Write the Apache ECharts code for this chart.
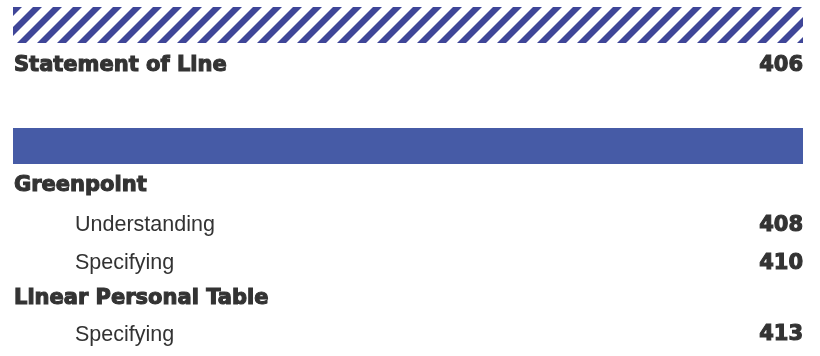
<!DOCTYPE html>
<html>
<head>
<meta charset="utf-8">
<script src="https://cdn.jsdelivr.net/npm/echarts@6/dist/echarts.min.js"></script>
<style>
html,body{margin:0;padding:0;background:#fff;}
#chart{width:820px;height:356px;}
</style>
</head>
<body>
<div id="chart"></div>
<script>
// ---- data ----
const entryTitles = ["Statement of Line", "Greenpoint", "Understanding", "Specifying", "Linear Personal Table", "Specifying"];
const entryLevels = [0, 0, 1, 1, 0, 1];
const entryPages  = ["406", "", "408", "410", "", "413"];
const entryLines  = [64.5, 184.5, 224.5, 262.5, 297.5, 334];   // vertical position on the page axis
const bandKinds   = ["hatched", "solid"];
const bandTops    = [7, 128];
const bandBottoms = [43, 164];

// ---- styles ----
const INK = "#333333";
const HATCH = "#3f4698";
const SOLID = "#465ba6";
const HEAVY = "bold 21px 'DejaVu Sans'";
const LIGHT = "21.5px 'Liberation Sans', Arial, sans-serif";
const LEFT = 13, RIGHT = 803, INDENT = 75;

function clipPoly(pts, xmin, xmax) {
  function clip(poly, keep, inter) {
    const out = [];
    for (let i = 0; i < poly.length; i++) {
      const a = poly[i], b = poly[(i + 1) % poly.length];
      const ka = keep(a), kb = keep(b);
      if (ka) out.push(a);
      if (ka !== kb) out.push(inter(a, b));
    }
    return out;
  }
  const ix = (xv) => (a, b) => { const t = (xv - a[0]) / (b[0] - a[0]); return [xv, a[1] + t * (b[1] - a[1])]; };
  let p = clip(pts, q => q[0] >= xmin, ix(xmin));
  if (p.length) p = clip(p, q => q[0] <= xmax, ix(xmax));
  return p;
}

const chart = echarts.init(document.getElementById('chart'), null, {renderer: 'canvas'});

const bandData = bandKinds.map((k, i) => [i, bandTops[i], bandBottoms[i]]);
const entryData = entryTitles.map((t, i) => [i, entryLines[i]]);

chart.setOption({
  animation: false,
  grid: {left: 0, right: 0, top: 0, bottom: 0},
  xAxis: {type: 'value', min: 0, max: 820, show: false},
  yAxis: {type: 'value', min: 0, max: 356, inverse: true, show: false},
  series: [
    {
      type: 'custom',
      coordinateSystem: 'cartesian2d',
      data: bandData,
      renderItem: function (params, api) {
        const idx = api.value(0);
        const topP = api.coord([LEFT, api.value(1)]);
        const botP = api.coord([RIGHT, api.value(2)]);
        const x0 = topP[0], x1 = botP[0], y0 = topP[1], y1 = botP[1];
        if (bandKinds[idx] === 'solid') {
          return {type: 'rect', shape: {x: x0, y: y0, width: x1 - x0, height: y1 - y0},
                  style: {fill: SOLID}};
        }
        const h = y1 - y0, period = 20, w = 9;
        const children = [];
        for (let bx = x0 - h - period; bx < x1 + period; bx += period) {
          const poly = [[bx, y1], [bx + w, y1], [bx + w + h, y0], [bx + h, y0]];
          const c = clipPoly(poly, x0, x1);
          if (c.length >= 3) children.push({type: 'polygon', shape: {points: c}, style: {fill: HATCH}});
        }
        return {type: 'group', children: children};
      }
    },
    {
      type: 'custom',
      coordinateSystem: 'cartesian2d',
      data: entryData,
      renderItem: function (params, api) {
        const i = api.value(0);
        const lvl = entryLevels[i];
        const p = api.coord([lvl === 0 ? 14 : INDENT, api.value(1)]);
        const r = api.coord([RIGHT, api.value(1)]);
        const children = [{
          type: 'text',
          style: {
            text: entryTitles[i], x: p[0], y: p[1] + 1,
            font: lvl === 0 ? HEAVY : LIGHT,
            fill: INK,
            stroke: lvl === 0 ? INK : null, lineWidth: lvl === 0 ? 1.1 : 0,
            align: 'left', verticalAlign: 'middle',
            textAlign: 'left', textVerticalAlign: 'middle'
          }
        }];
        if (entryPages[i]) {
          children.push({
            type: 'text',
            style: {
              text: entryPages[i], x: r[0], y: r[1] + 1,
              font: HEAVY, fill: INK, stroke: INK, lineWidth: 1.1,
              align: 'right', verticalAlign: 'middle',
              textAlign: 'right', textVerticalAlign: 'middle'
            }
          });
        }
        return {type: 'group', children: children};
      }
    }
  ]
});
</script>
</body>
</html>
